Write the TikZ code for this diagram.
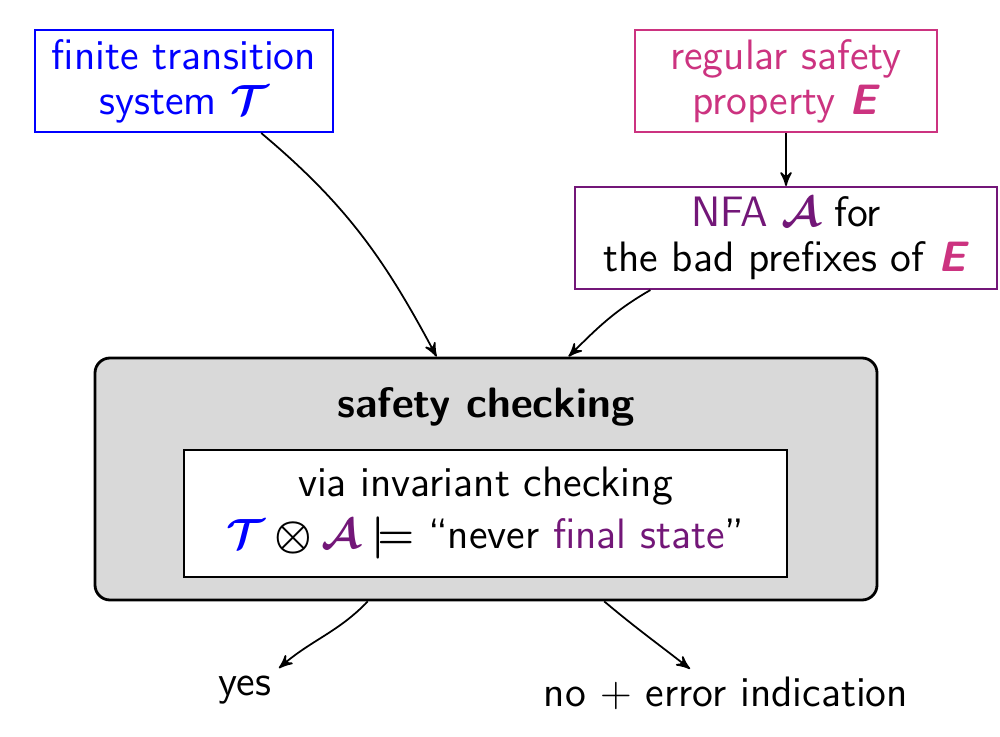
\documentclass[tikz,border=0pt]{standalone}
\usepackage{amsmath}
\usepackage{bm}
\usepackage{fontspec}
\renewcommand{\familydefault}{\sfdefault}
\usetikzlibrary{arrows,calc}
\definecolor{tsblue}{RGB}{0,0,255}
\definecolor{propmagenta}{RGB}{204,51,128}
\definecolor{nfapurple}{RGB}{115,23,120}
\definecolor{boxgray}{RGB}{217,217,217}
\newcommand{\picfont}{\fontsize{12.1}{12.8}\selectfont}
\tikzset{input/.style={rectangle, draw, semithick, minimum height=1.02cm, inner sep=0pt, align=center},
	check/.style={rectangle, rounded corners=1.5mm, draw, thick, fill=boxgray, minimum width=7.82cm, minimum height=2.42cm},
	invbox/.style={rectangle, draw, fill=white, thin, minimum width=6.03cm, minimum height=1.27cm, inner sep=0pt, align=center},
	result/.style={inner sep=2pt},
	flow/.style={->, line width=0.5pt}
}

\begin{document}
\begin{tikzpicture}[font=\picfont, >=stealth']
	\useasboundingbox (0,0) rectangle (10,7.36);
	\node[input, draw=tsblue, text=tsblue, minimum width=2.98cm] (ts) at (1.84,6.55) {finite transition\\system $\bm{\mathcal{T}}$};
	\node[input, draw=propmagenta, text=propmagenta, minimum width=3.02cm] (prop) at (7.86,6.55) {regular safety\\property \textbf{\textit{E}}};
	\node[input, draw=nfapurple, minimum width=4.22cm] (nfa) at (7.86,4.98) {\textcolor{nfapurple}{NFA $\bm{\mathcal{A}}$} for\\the bad prefixes of \textcolor{propmagenta}{\textbf{\textit{E}}}};
	\node[check] (safety) at (4.86,2.57) {};
	\node[font=\picfont\bfseries] (title) at (4.86,3.29) {safety checking};
	\node[invbox] (inv) at (4.855,2.225) {via invariant checking\\[2pt]$\textcolor{tsblue}{\bm{\mathcal{T}}} \bm{\otimes} \textcolor{nfapurple}{\bm{\mathcal{A}}} \bm{\models}$ ``never \textcolor{nfapurple}{final state}''};
	\node[result] (yes) at (2.45,0.46) {yes};
	\node[result] (no) at (7.26,0.43) {no $+$ error indication};
	\draw[flow] (ts.-34) to[out=-40,in=118] (safety.112);
	\draw[flow] (prop) -- (nfa);
	\draw[flow] (nfa.201) to[out=210,in=45] (safety.56.5);
	\draw[flow] (safety.226) to[out=226,in=41] (yes.north east);
	\draw[flow] (safety.-46) to[out=-40,in=142] ($(no.north)+(-0.36,0)$);
\end{tikzpicture}
\end{document}
